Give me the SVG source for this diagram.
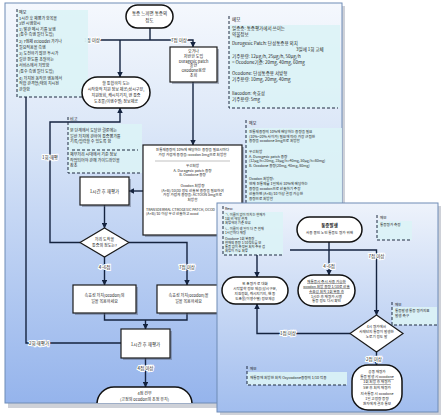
<svg xmlns="http://www.w3.org/2000/svg" width="444" height="418" viewBox="0 0 444 418">
<defs>
<linearGradient id="gMain" x1="0" y1="0" x2="0" y2="1">
<stop offset="0" stop-color="#f5f8fd"/><stop offset="0.3" stop-color="#dde8f8"/><stop offset="1" stop-color="#95b4ec"/>
</linearGradient>
<linearGradient id="gIns" x1="0" y1="0" x2="0" y2="1">
<stop offset="0" stop-color="#eef3fb"/><stop offset="1" stop-color="#a1bdee"/>
</linearGradient>
<clipPath id="cMain"><rect x="5" y="3" width="337" height="400"/></clipPath>
<marker id="ar" viewBox="0 0 6 6" refX="5.5" refY="3" markerWidth="4" markerHeight="4" orient="auto"><path d="M0,0 L6,3 L0,6 z" fill="#14233f"/></marker>
<style>
text{font-family:"Noto Sans CJK KR","Noto Sans",sans-serif;fill:#222;}
.panel{stroke:#6f8cb6;stroke-width:1;}
.shadow{fill:#b9bec8;opacity:0.7;}
.box{fill:#fff;stroke:#1b1b1b;stroke-width:1.2;}
.bsh{fill:#5a6478;opacity:0.45;}
.pill{fill:#fff;stroke:#111;stroke-width:1.5;}
.memo{fill:#dcf3f6;opacity:0.9;}
.dash{stroke:#1e2a40;stroke-width:1;stroke-dasharray:3,2;fill:none;}
.c{fill:none;stroke:#14233f;stroke-width:1.4;}
.t{font-size:4.5px;}
.s{font-size:4px;}
.xs{font-size:3.6px;}
.xxs{font-size:3.3px;}
.m{font-size:5px;}
.mid{text-anchor:middle;}
.lbl{font-size:4.5px;text-anchor:middle;paint-order:stroke;stroke:#fff;stroke-width:2px;}
.ul{text-decoration:underline;}
</style>
</defs>

<!-- main panel -->
<rect class="shadow" x="8" y="6" width="337" height="402"/>
<rect class="panel" x="5" y="3" width="337" height="400" fill="url(#gMain)"/>

<g clip-path="url(#cMain)">
<g id="connectors-main">
<path class="c" d="M150,28 V40"/>
<path class="c" d="M98,40 H172"/>
<path class="c" d="M186,40 H193 V47" marker-end="url(#ar)"/>
<path class="c" d="M120,40 V77" marker-end="url(#ar)"/>
<path class="c" d="M193,82 V145" marker-end="url(#ar)"/>
<path class="c" d="M143,191 H129" marker-end="url(#ar)"/>
<path class="c" d="M104.5,205 V228" marker-end="url(#ar)"/>
<path class="c" d="M80,242.5 H50 V122 H120 V108" marker-end="url(#ar)"/>
<path class="c" d="M104.5,257 V285" marker-end="url(#ar)"/>
<path class="c" d="M129,242.5 H187 V285" marker-end="url(#ar)"/>
<path class="c" d="M104.5,313 V320 H187 V313"/>
<path class="c" d="M145.5,320 V329" marker-end="url(#ar)"/>
<path class="c" d="M121,343 H26 V97"/>
<path class="c" d="M145.5,358 V387" marker-end="url(#ar)"/>
<text class="lbl" x="92" y="41.5">1점 이상</text>
<text class="lbl" x="179" y="41.5">7점 이상</text>
<text class="lbl" x="50" y="158.5">1회 재평</text>
<text class="lbl" x="104.5" y="268.5">4~6점</text>
<text class="lbl" x="187" y="268.5">7점 이상</text>
<text class="lbl" x="39" y="344.5">2회 재평가</text>
<text class="lbl" x="145.5" y="369.5">4점 이상</text>
</g>

<g id="memo1">
<rect class="memo" x="17" y="10" width="71" height="87"/>
<path class="dash" d="M17,9 V97 H88"/>
<text class="s" x="19" y="14">메모</text>
<text class="s" x="19" y="20">1시간 후 재평가 항목을</text>
<text class="s" x="19" y="25">3번 시행함시</text>
<text class="s" x="19" y="30.5">1) 발관 메시 기를 보행</text>
<text class="s" x="19" y="35.5">(통수 측행 필터 도입)</text>
<text class="s" x="19" y="43">2) 7점제 ecloodel 가기나</text>
<text class="s" x="19" y="48.5">필요적용을 측행</text>
<text class="s" x="19" y="55">3) 도전하기 많은 투시가</text>
<text class="s" x="19" y="61">길한 판도를 조절하는</text>
<text class="s" x="19" y="67">서비스에서 처방함</text>
<text class="s" x="19" y="72.5">(통수 측행 필터 도입)</text>
<text class="s" x="19" y="79.5">4) 처치된 동작은 행동에서</text>
<text class="s" x="19" y="85">적합 관격형(태의 지시된</text>
<text class="s" x="19" y="91">관찰함</text>
</g>

<g id="start">
<rect class="pill" x="126" y="5" width="47" height="23" rx="11.5"/>
<text class="t mid" x="149.5" y="14.5">통증 느끼면 통증의</text>
<text class="t mid" x="149.5" y="21.5">정도</text>
</g>

<g id="duragesic">
<rect class="bsh" x="172" y="49" width="47" height="35"/>
<rect class="box" x="170" y="47" width="47" height="35"/>
<text class="s mid" x="193.5" y="53">오거나</text>
<text class="s mid" x="193.5" y="58">저반한 도입</text>
<text class="s mid" x="193.5" y="62.5">Duragesic patch</text>
<text class="s mid" x="193.5" y="67">출현</text>
<text class="s mid" x="193.5" y="72">Oxodone용량</text>
<text class="s mid" x="193.5" y="76.5">조회</text>
</g>

<g id="info-pill">
<rect class="pill" x="82" y="77" width="68" height="31" rx="15.5"/>
<text class="s mid" x="116" y="85">할 통합하지 도는</text>
<text class="s mid" x="116" y="91">시작함적 지원 정보 제공(상시구분,</text>
<text class="s mid" x="116" y="97">지원정회, 캐시지기지, 핸 통증</text>
<text class="s mid" x="116" y="103">도조물(이행수별) 정보제공</text>
</g>

<g id="memo2">
<rect class="memo" x="68" y="124" width="74" height="49"/>
<path class="dash" d="M68,117 V173 H142"/>
<path class="dash" d="M72,150 H138"/>
<text class="s" x="70" y="121">비고</text>
<text class="s" x="70" y="132">본 단계에서 도달한 결론에는</text>
<text class="s" x="70" y="137.5">일반 처치에 관하여 통증평가를</text>
<text class="s" x="70" y="143">기록/입력할 수 있도록 함</text>
<text class="s" x="70" y="156">재무처리 시대에서 기준 정보</text>
<text class="s" x="70" y="161.5">작업되어야 관해 가이드라인을</text>
<text class="s" x="70" y="167">참조</text>
</g>

<g id="memo3">
<rect class="memo" x="229" y="25" width="111" height="83"/>
<path class="dash" d="M229,16 V108 H338"/>
<text class="t" x="232" y="21">메모</text>
<text class="t" x="232" y="30">일증증: 통증평가에서 쓰이는</text>
<text class="t" x="232" y="35.5">약물정보</text>
<text class="t" x="232" y="45">Durogesic Patch: 단성통증용 외치</text>
<text class="t" x="296" y="50.5">3일에 1회 교체</text>
<text class="t" x="232" y="58">기주용량: 12μg/h, 25μg/h, 50μg/h</text>
<text class="t" x="232" y="63.5">= Ocodone기준: 20mg, 40mg, 60mg</text>
<text class="t" x="232" y="75">Ocodone: 단성통증용 서방형</text>
<text class="t" x="232" y="81">기주용량: 10mg, 20mg, 40mg</text>
<text class="t" x="232" y="95">Ilacodon: 속효성</text>
<text class="t" x="232" y="101">기주용량: 5mg</text>
</g>

<g id="memo4">
<rect class="memo" x="246" y="128" width="96" height="82"/>
<path class="dash" d="M246,120 V210"/>
<text class="s" x="249" y="125">메모</text>
<text class="xs" x="249" y="133">진통제용량의 10%에 해당하는 용량을 필요</text>
<text class="xs" x="249" y="137.5">(10%~20% 사이가) 필요에 따라 가장 근접한</text>
<text class="xs" x="249" y="142">용량을 ocodone 5mg으로 처방함</text>
<text class="xs" x="249" y="153">우선처방</text>
<text class="xs" x="249" y="157.5">A. Durogesic patch 용량</text>
<text class="xs" x="249" y="162">(12μg/h=20mg, 25μg/h=40mg, 50μg/h=80mg)</text>
<text class="xs" x="249" y="166.5">B. Ocodone 용량(20mg, 40mg, 80mg)</text>
<text class="xs" x="249" y="180">Ocodon 처방량:</text>
<text class="xs" x="249" y="185">현재 진통제를 1일에서 10%에 해당하는</text>
<text class="xs" x="249" y="190">용량을 ocodon으로 산출하기 주장</text>
<text class="xs" x="249" y="195">산출하면 (A+B)/10 이상 결정 가능한</text>
<text class="xs" x="249" y="200">용량으로 처방함</text>
</g>

<g id="dose-box">
<rect class="bsh" x="145" y="147" width="99" height="90"/>
<rect class="box" x="143" y="145" width="99" height="90"/>
<text class="xs mid" x="192.5" y="151">진통제용량의 10%에 해당하는 용량을 필요시마다</text>
<text class="xs mid" x="192.5" y="156">가장 가깝게 용량을: ocodon 5mg으로 처방함</text>
<path d="M155,161 H230" stroke="#999" stroke-width="0.6"/>
<text class="xs mid" x="192.5" y="167">우선처방</text>
<text class="xs mid" x="192.5" y="171.5">A. Duragesic patch 용량</text>
<text class="xs mid" x="192.5" y="176">B. Oxodone 용량</text>
<text class="xs mid" x="192.5" y="187">Ocodon 처방량</text>
<text class="xs mid" x="192.5" y="191.5">(A+B)/10(30 정도 산출된 용량을 필요하여</text>
<text class="xs mid" x="192.5" y="196">가장 가깝게 용량을: ACTOON 5mg으로</text>
<text class="xs mid" x="192.5" y="200.5">처방함</text>
<text class="xs" x="146" y="210.5">TRANSDERMAL CTROGESIC PATCH, OCOD</text>
<text class="xs" x="146" y="215">(A+B)/10 이상 우선 산출하고 ocod</text>
</g>

<g id="reeval1">
<rect class="bsh" x="82" y="179" width="49" height="28"/>
<rect class="box" x="80" y="177" width="49" height="28"/>
<text class="t mid" x="104.5" y="193">1시간 후 재평가</text>
</g>

<g id="decision1">
<polygon class="box" points="104.5,228 129,242.5 104.5,257 80,242.5"/>
<text class="s mid" x="104.5" y="241">처리 도착을</text>
<text class="s mid" x="104.5" y="246.5">통증의 정도는?</text>
</g>

<g id="rescue-left">
<rect class="bsh" x="75" y="287" width="63" height="28"/>
<rect class="box" x="73" y="285" width="63" height="28"/>
<text class="s mid" x="104.5" y="297">속효성 처치(ocodon)의</text>
<text class="s mid" x="104.5" y="303">일을 복용하세요</text>
</g>

<g id="rescue-right">
<rect class="bsh" x="159" y="287" width="63" height="28"/>
<rect class="box" x="157" y="285" width="63" height="28"/>
<text class="s mid" x="188.5" y="297">속효성 처치(ocodon)을</text>
<text class="s mid" x="188.5" y="303">일을 복용하세요</text>
</g>

<g id="reeval2">
<rect class="bsh" x="123" y="331" width="49" height="29"/>
<rect class="box" x="121" y="329" width="49" height="29"/>
<text class="t mid" x="145.5" y="345.5">1시간 후 재평가</text>
</g>

<g id="end">
<rect class="pill" x="97" y="387" width="95" height="34" rx="17"/>
<text class="s mid" x="144.5" y="395">4점 건부</text>
<text class="s mid" x="144.5" y="401">(고정의 ocodon의 조정 유지)</text>
</g>
</g>

<!-- inset panel -->
<rect class="shadow" x="220" y="206" width="221" height="209"/>
<rect class="panel" x="217" y="203" width="221" height="209" fill="url(#gIns)"/>

<g id="connectors-inset">
<path class="c" d="M257,255 V277" marker-end="url(#ar)"/>
<path class="c" d="M350,333.5 H257 V304" marker-end="url(#ar)"/>
<path class="c" d="M329,242 V275" marker-end="url(#ar)"/>
<path class="c" d="M290,250 H376.5 V315" marker-end="url(#ar)"/>
<path class="c" d="M376.5,352 V365" marker-end="url(#ar)"/>
<text class="lbl" x="288" y="335">1점 이상</text>
<text class="lbl" x="329" y="267.5">4~6점</text>
<text class="lbl" x="376.5" y="257.5">7점 이상</text>
<text class="lbl" x="374" y="360.5">2점 이상</text>
</g>

<g id="memo-resc">
<rect class="memo" x="223" y="212" width="60" height="43"/>
<path class="dash" d="M223,206 V255 H283"/>
<text class="xs" x="225" y="209.5">Resc</text>
<text class="xxs" x="225" y="215.5">ㄱ. 이름이 없이 미치는 현재가</text>
<text class="xxs" x="225" y="219.5">   1회 비 해당 관계</text>
<text class="xxs" x="225" y="223.5">   처방해야 기준 보류</text>
<text class="xxs" x="225" y="229.5">ㄴ. 이름이 생 일이 더 큰 현재</text>
<text class="xxs" x="225" y="233.5">   1시간마다 재평</text>
<text class="xxs" x="225" y="240">Ocodone 1회 복용량</text>
<text class="xxs" x="225" y="244">현재의 용량 1/10정도를 보</text>
<text class="xxs" x="225" y="248">통증 없이 측정된 처치 주유 검</text>
<text class="xxs" x="225" y="252">처방이 가능 처방</text>
</g>

<g id="pain-start">
<rect class="pill" x="297" y="217" width="65" height="25" rx="12.5"/>
<text class="t mid" x="329.5" y="227" font-weight="bold">통증발생</text>
<text class="xs mid" x="329.5" y="234">사용 중인 노인 통증도 평가 위해</text>
</g>

<g id="memo5">
<rect class="memo" x="377" y="221" width="35" height="19"/>
<path class="dash" d="M377,215 V240 H412"/>
<text class="xs" x="380" y="219">메모</text>
<text class="xs" x="380" y="226">통증평가 측정</text>
</g>

<g id="info-pill2">
<rect class="pill" x="222" y="277" width="66" height="27" rx="13.5"/>
<text class="xs mid" x="255" y="284.5">또 조평가 로 대화</text>
<text class="xs mid" x="255" y="289.5">시작할학 정보 제공(상시구분,</text>
<text class="xs mid" x="255" y="294.5">지원정회, 캐시지기지, 핸 동</text>
<text class="xs mid" x="255" y="299.5">도조물(이행수별) 정보제공</text>
</g>

<g id="rescue-pill">
<rect class="pill" x="298" y="275" width="57" height="31" rx="15.5"/>
<text class="xs mid ul" x="326.5" y="282.5">재통증시 즉시 사용 가능한</text>
<text class="xs mid ul" x="326.5" y="287.5">ocodon 처방 용량 1/10로 산출</text>
<text class="xs mid ul" x="326.5" y="292.5">속효성 처치 1회 복용 후</text>
<text class="xs mid" x="326.5" y="297.5">1시간 후 재평가 시행</text>
<text class="xs mid" x="326.5" y="302">통증 정도 다시 확인</text>
</g>

<g id="decision2">
<polygon class="box" points="376.5,315 403,333.5 376.5,352 350,333.5"/>
<text class="xs mid" x="376.5" y="328">4시 평가에서</text>
<text class="xs mid" x="376.5" y="333">사제단지 통증이 발생한</text>
<text class="xs mid" x="376.5" y="338">노로기 정도 발</text>
</g>

<g id="memo6">
<rect class="memo" x="392" y="307" width="45" height="18"/>
<path class="dash" d="M392,302 V325 H437"/>
<text class="xs" x="395" y="305.5">메모</text>
<text class="xs" x="395" y="312">통증발생 통증 평가지표</text>
<text class="xs" x="395" y="317">발생 측구</text>
</g>

<g id="memo7">
<rect class="memo" x="247" y="372" width="100" height="13"/>
<path class="dash" d="M247,366 V385 H347"/>
<text class="xs" x="250" y="370">메모</text>
<text class="xs" x="250" y="378.5">재통증에 처방한 처치 Oxycodone용량의 1/10 적용</text>
</g>

<g id="final-pill">
<rect class="pill" x="352" y="365" width="50" height="45" rx="16"/>
<text class="xs mid" x="377" y="373">공동 재평가</text>
<text class="xs mid ul" x="377" y="378">통증 발생 시 ocodone</text>
<text class="xs mid ul" x="377" y="383">1회 처방 후 재평가</text>
<text class="xs mid" x="377" y="389">5분 후 처치 재평가</text>
<text class="xs mid" x="377" y="394.5">지속통증 시 ocodone</text>
<text class="xs mid" x="377" y="399.5">1일 고정량 증량</text>
<text class="xs mid" x="377" y="404.5">환자에게 결과 통보</text>
</g>
</svg>
